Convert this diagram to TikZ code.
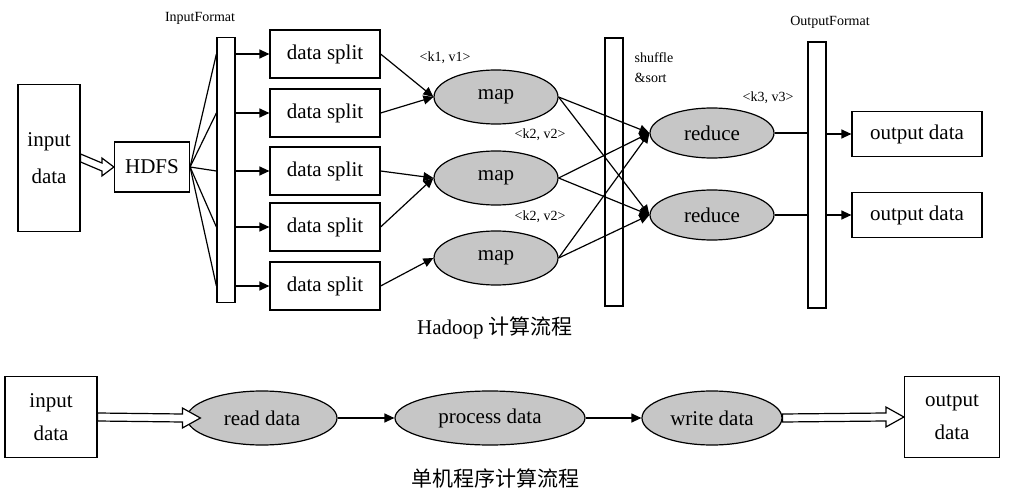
\documentclass[tikz,border=0pt]{standalone}
\usepackage{fontspec}
\setmainfont{Liberation Serif}
\newfontfamily\cjk{Noto Sans CJK SC}
\usetikzlibrary{arrows.meta,calc,shapes.geometric}
\begin{document}
\begin{tikzpicture}[x=1pt,y=-1pt,
  box/.style={draw,line width=1.2pt,fill=white,font=\fontsize{21}{23}\selectfont,inner sep=0pt,align=center},
  bar/.style={draw,line width=1.2pt,fill=white,minimum width=18pt,inner sep=0pt},
  ell/.style={draw,line width=1.2pt,ellipse,fill=gray!45,inner sep=0pt,font=\fontsize{21}{23}\selectfont},
  arr/.style={line width=1.2pt,-{Triangle[length=10pt,width=9pt]}},
  ln/.style={line width=1.2pt},
  lab/.style={font=\fontsize{14}{16}\selectfont,inner sep=0pt},
  hollow/.style={line width=1.2pt,fill=white}]
\useasboundingbox (0,0) rectangle (1013,500);
% top
\node[box,minimum width=62pt,minimum height=147pt] (in) at (49,158) {input\\[14pt]data};
\node[box,minimum width=75pt,minimum height=50pt] (hdfs) at (152,167) {HDFS};
\node[bar,minimum height=265pt] (ifb) at (226,170) {};
\node[lab] (iflab) at (200,18) {InputFormat};
\foreach \i/\y in {1/54,2/113,3/171,4/227,5/286}{
  \node[box,minimum width=110pt,minimum height=48pt] (s\i) at (325,\y) {data split};
  \coordinate (bl\i) at (ifb.west |- 0,\y);
  \coordinate (br\i) at (ifb.east |- 0,\y);
  \draw[ln] (hdfs.east) -- (bl\i);
  \draw[arr] (br\i) -- (s\i.west);
}
\node[ell,minimum width=124pt,minimum height=54pt] (m1) at (496,97) {map};
\node[ell,minimum width=124pt,minimum height=54pt] (m2) at (496,178) {map};
\node[ell,minimum width=124pt,minimum height=54pt] (m3) at (496,258) {map};
\draw[arr] (s1.east) -- (m1.west);
\draw[arr] (s2.east) -- (m1.west);
\draw[arr] (s3.east) -- (m2.west);
\draw[arr] (s4.east) -- (m2.west);
\draw[arr] (s5.east) -- (m3.west);
\node[lab] (k1) at (445,58) {<k1, v1>};
\node[lab] (k2) at (540,135) {<k2, v2>};
\node[lab] (k2b) at (540,217) {<k2, v2>};
\node[bar,minimum height=268pt] (sb) at (614,172) {};
\node[lab,align=left] (shl) at (654,68) {shuffle\\[4pt]\&sort};
\node[ell,minimum width=124pt,minimum height=50pt] (r1) at (712,133) {reduce};
\node[ell,minimum width=124pt,minimum height=50pt] (r2) at (712,215) {reduce};
\foreach \m in {m1,m2,m3}{
  \draw[arr] (\m.east) -- (r1.west);
  \draw[arr] (\m.east) -- (r2.west);
}
\node[lab] (k3) at (768,98) {<k3, v3>};
\node[lab] (oflab) at (830,22) {OutputFormat};
\node[bar,minimum height=266pt] (ob) at (817,175) {};
\node[box,minimum width=130pt,minimum height=45pt] (o1) at (917,134) {output data};
\node[box,minimum width=130pt,minimum height=45pt] (o2) at (917,215) {output data};
\draw[ln] (r1.east) -- (ob.west |- r1.east);
\draw[arr] (ob.east |- o1.west) -- (o1.west);
\draw[ln] (r2.east) -- (ob.west |- r2.east);
\draw[arr] (ob.east |- o2.west) -- (o2.west);
\node[font=\fontsize{21}{23}\selectfont] (t1) at (495,328) {Hadoop {\cjk 计算流程}};
% bottom
\node[box,minimum width=92pt,minimum height=81pt] (bin) at (51,417) {input\\[10pt]data};
\node[ell,minimum width=150pt,minimum height=54pt] (rd) at (262,418) {read data};
\node[ell,minimum width=190pt,minimum height=54pt] (pd) at (490,418) {process data};
\node[ell,minimum width=140pt,minimum height=54pt] (wd) at (712,418) {write data};
\node[box,minimum width=95pt,minimum height=81pt] (bout) at (952,417) {output\\[10pt]data};
\draw[arr] (rd.east) -- (pd.west);
\draw[arr] (pd.east) -- (wd.west);
\draw[hollow] ($(bin.east)+(0,-4)$) -- ($(rd.west)+(-4,-4)$) -- ($(rd.west)+(-4,-10)$) -- ($(rd.west)+(14,0)$) -- ($(rd.west)+(-4,10)$) -- ($(rd.west)+(-4,4)$) -- ($(bin.east)+(0,4)$) -- cycle;
\draw[hollow] ($(wd.east)+(0,-4)$) -- ($(bout.west)+(-18,-4)$) -- ($(bout.west)+(-18,-10)$) -- (bout.west) -- ($(bout.west)+(-18,10)$) -- ($(bout.west)+(-18,4)$) -- ($(wd.east)+(0,4)$) -- cycle;
\draw[hollow] ($(in.east)+(0,-4)$) -- ($(hdfs.west)+(-12,-4)$) -- ($(hdfs.west)+(-12,-9)$) -- (hdfs.west) -- ($(hdfs.west)+(-12,9)$) -- ($(hdfs.west)+(-12,4)$) -- ($(in.east)+(0,4)$) -- cycle;
\node[font=\fontsize{21}{23}\selectfont\cjk] (t2) at (495,478) {单机程序计算流程};
\end{tikzpicture}
\end{document}
